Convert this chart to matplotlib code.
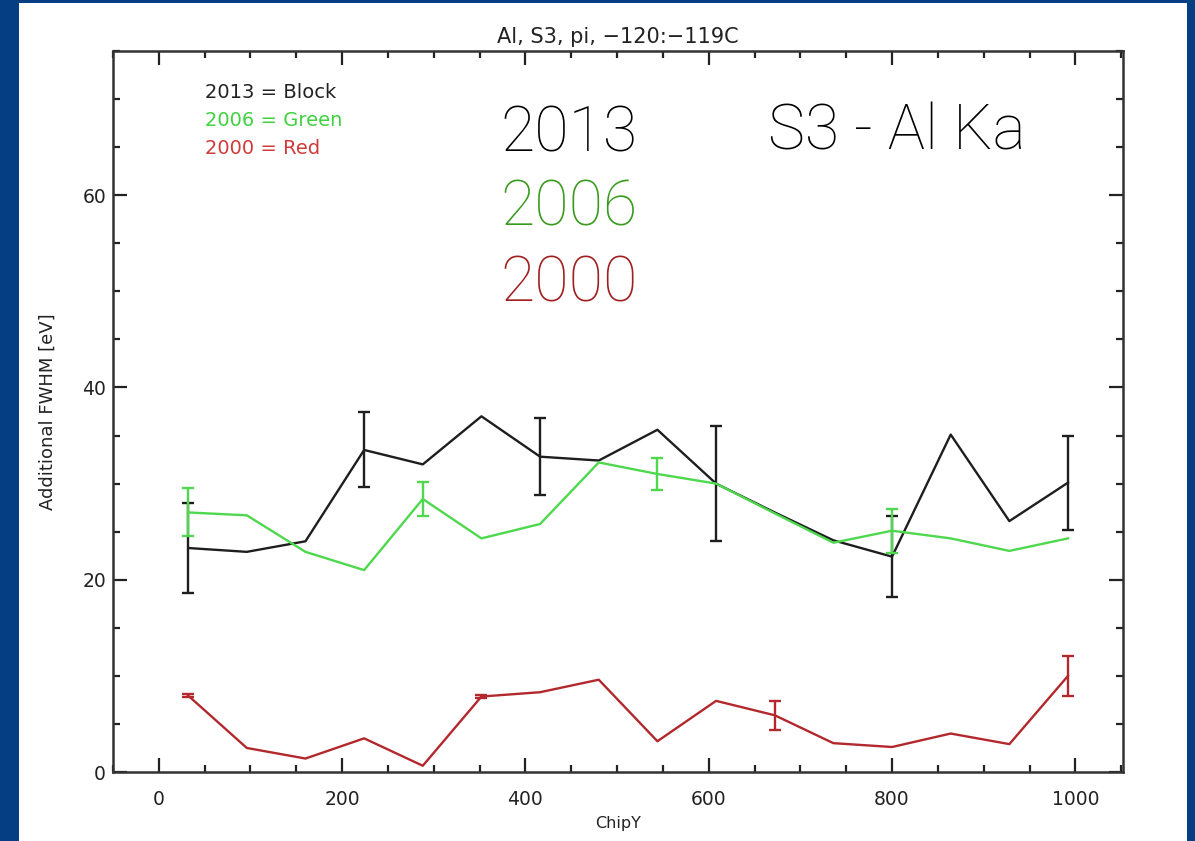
import numpy as np
import matplotlib.pyplot as plt
from matplotlib.patches import Rectangle
from matplotlib.ticker import MultipleLocator

# data
chipy = [32, 96, 160, 224, 288, 352, 416, 480, 544, 608, 672, 736, 800, 864, 928, 992]
fwhm_2013 = [23.3, 22.9, 24.0, 33.5, 32.0, 37.0, 32.8, 32.4, 35.6, 30.0, 27.0, 24.1, 22.4, 35.1, 26.1, 30.1]
fwhm_2006 = [27.0, 26.7, 22.9, 21.0, 28.4, 24.3, 25.8, 32.2, 31.0, 30.0, 26.9, 23.85, 25.1, 24.3, 23.0, 24.3]
fwhm_2000 = [7.95, 2.5, 1.4, 3.5, 0.65, 7.85, 8.3, 9.6, 3.2, 7.4, 5.9, 3.0, 2.6, 4.0, 2.9, 10.0]

# error bars only drawn at some points
err_idx_2013 = [0, 3, 6, 9, 12, 15]
err_2013 = [4.7, 3.9, 4.0, 6.0, 4.2, 4.9]
err_idx_2006 = [0, 4, 8, 12]
err_2006 = [2.5, 1.8, 1.7, 2.3]
err_idx_2000 = [0, 5, 10, 15]
err_2000 = [0.2, 0.2, 1.5, 2.1]

c_black = '#1e1e1e'
c_green = '#4ed84e'
c_red = '#b3282d'

fig = plt.figure(figsize=(11.95, 8.41), dpi=100, facecolor='#053e82')
# white slide area inside the blue frame
bg = Rectangle((19 / 1195, 0), 1168 / 1195, 838 / 841,
               transform=fig.transFigure, facecolor='white',
               edgecolor='none', zorder=-10)
fig.add_artist(bg)

ax = fig.add_axes([113 / 1195, 1 - 772 / 841, 1010 / 1195, 721 / 841])
ax.set_facecolor('white')
ax.set_zorder(1)

x = np.array(chipy)
for ys, idx, err, col in [(fwhm_2013, err_idx_2013, err_2013, c_black),
                          (fwhm_2006, err_idx_2006, err_2006, c_green),
                          (fwhm_2000, err_idx_2000, err_2000, c_red)]:
    ys = np.array(ys)
    ax.plot(x, ys, color=col, lw=1.7)
    ax.errorbar(x[idx], ys[idx], yerr=err, fmt='none', ecolor=col,
                elinewidth=1.7, capsize=4.5, capthick=1.7)

ax.set_xlim(-50, 1052)
ax.set_ylim(0, 75)
ax.xaxis.set_major_locator(MultipleLocator(200))
ax.xaxis.set_minor_locator(MultipleLocator(50))
ax.yaxis.set_major_locator(MultipleLocator(20))
ax.yaxis.set_minor_locator(MultipleLocator(5))
ax.tick_params(which='both', direction='in', top=True, right=True, width=1.6,
               labelsize=13.5, colors='#222222')
ax.tick_params(which='major', length=10)
ax.tick_params(which='minor', length=5)
ax.tick_params(axis='x', pad=13)
ax.tick_params(axis='y', pad=5)
for s in ax.spines.values():
    s.set_linewidth(1.8)
    s.set_color('#333333')

ax.set_title('Al, S3, pi, \u2212120:\u2212119C', fontsize=15, color='#222222', pad=6)
ax.set_xlabel('ChipY', fontsize=11.5, color='#222222', labelpad=5)
ax.set_ylabel('Additional FWHM [eV]', fontsize=13, color='#222222', labelpad=18)

# IDL style legend
ax.text(205 / 1195, 1 - 93 / 841, '2013 = Block', transform=fig.transFigure,
        fontsize=14, color='#222222', va='center')
ax.text(205 / 1195, 1 - 121 / 841, '2006 = Green', transform=fig.transFigure,
        fontsize=14, color='#3fd23f', va='center')
ax.text(205 / 1195, 1 - 149 / 841, '2000 = Red', transform=fig.transFigure,
        fontsize=14, color='#d03a3a', va='center')

# big slide annotations
big = dict(transform=fig.transFigure, fontsize=45, fontfamily='Roboto',
           fontweight='light', va='baseline', zorder=5)
fig.text(500 / 1195, 1 - 152 / 841, '2013', color='black', **big)
fig.text(500 / 1195, 1 - 226 / 841, '2006', color='#3a9a1e', **big)
fig.text(500 / 1195, 1 - 301 / 841, '2000', color='#a01e1e', **big)
fig.text(768 / 1195, 1 - 150 / 841, 'S3 - Al Ka', color='black', **big)

fig.savefig('out.png', dpi=100, facecolor=fig.get_facecolor())
